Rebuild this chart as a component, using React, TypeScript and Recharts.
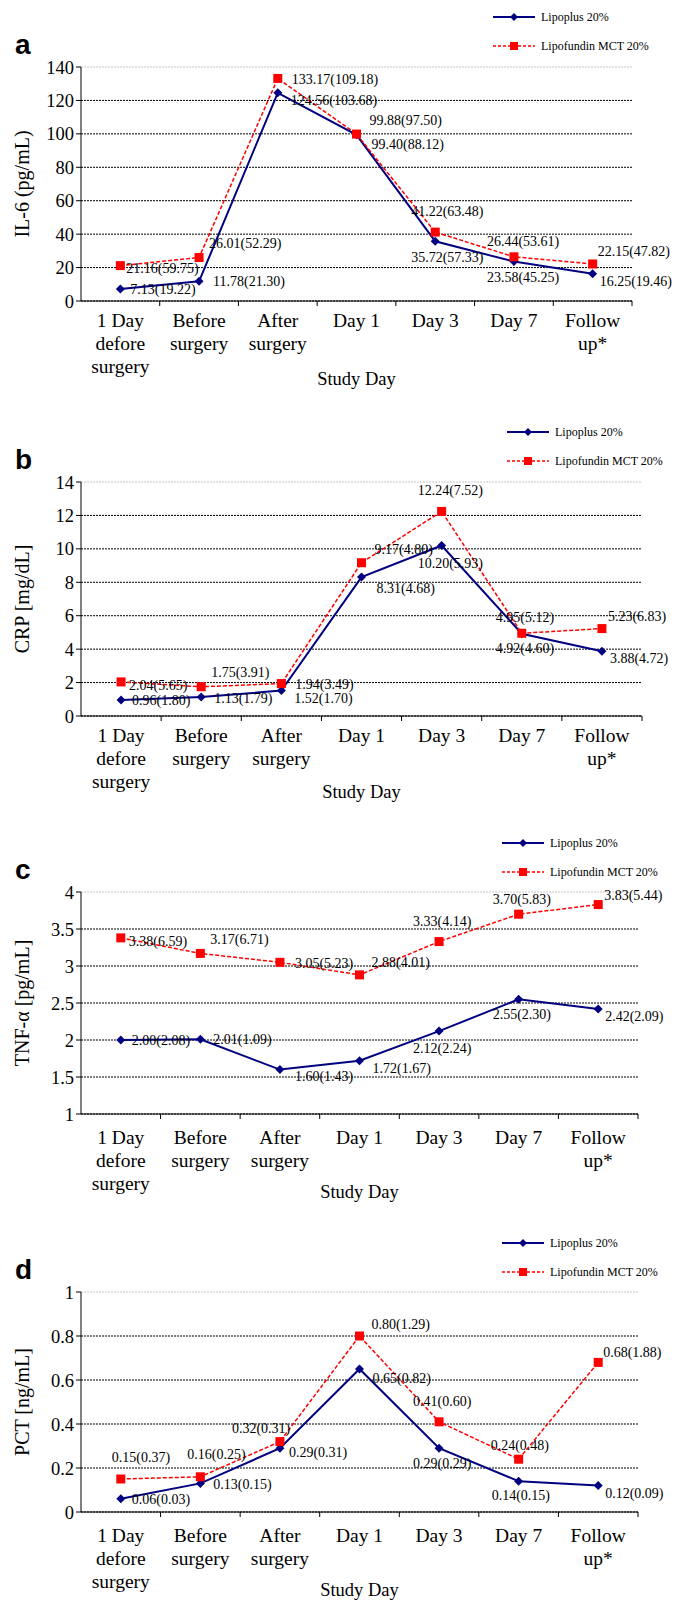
import React from 'react'
import { LineChart, Line, XAxis, YAxis, CartesianGrid, LabelList } from 'recharts'

const categories = ['1 Day\ndefore\nsurgery', 'Before\nsurgery', 'After\nsurgery', 'Day 1', 'Day 3', 'Day 7', 'Follow\nup*']
const seriesNames = ['Lipoplus 20%', 'Lipofundin MCT 20%']

// a: IL-6
const il6Lipoplus = [7.13, 11.78, 124.56, 99.4, 35.72, 23.58, 16.25]
const il6LipoplusSd = [19.22, 21.3, 103.68, 88.12, 57.33, 45.25, 19.46]
const il6Lipofundin = [21.16, 26.01, 133.17, 99.88, 41.22, 26.44, 22.15]
const il6LipofundinSd = [59.75, 52.29, 109.18, 97.5, 63.48, 53.61, 47.82]
const il6Ticks = [0, 20, 40, 60, 80, 100, 120, 140]

// b: CRP
const crpLipoplus = [0.96, 1.13, 1.52, 8.31, 10.2, 4.92, 3.88]
const crpLipoplusSd = [1.8, 1.79, 1.7, 4.68, 5.93, 4.6, 4.72]
const crpLipofundin = [2.04, 1.75, 1.94, 9.17, 12.24, 4.95, 5.23]
const crpLipofundinSd = [5.65, 3.91, 3.49, 4.8, 7.52, 5.12, 6.83]
const crpTicks = [0, 2, 4, 6, 8, 10, 12, 14]

// c: TNF-alpha
const tnfLipoplus = [2.0, 2.01, 1.6, 1.72, 2.12, 2.55, 2.42]
const tnfLipoplusSd = [2.08, 1.09, 1.43, 1.67, 2.24, 2.3, 2.09]
const tnfLipofundin = [3.38, 3.17, 3.05, 2.88, 3.33, 3.7, 3.83]
const tnfLipofundinSd = [6.59, 6.71, 5.23, 4.01, 4.14, 5.83, 5.44]
const tnfTicks = [1, 1.5, 2, 2.5, 3, 3.5, 4]

// d: PCT
const pctLipoplus = [0.06, 0.13, 0.29, 0.65, 0.29, 0.14, 0.12]
const pctLipoplusSd = [0.03, 0.15, 0.31, 0.82, 0.29, 0.15, 0.09]
const pctLipofundin = [0.15, 0.16, 0.32, 0.8, 0.41, 0.24, 0.68]
const pctLipofundinSd = [0.37, 0.25, 0.31, 1.29, 0.6, 0.48, 1.88]
const pctTicks = [0, 0.2, 0.4, 0.6, 0.8, 1]

// label offsets (dx to text start, dy to text middle) per point
const il6BlueOff = [[10, 0], [14, 0], [13, 8], [15, 10], [-24, 16], [-27, 16], [7, 8]]
const il6RedOff = [[6, 3], [10, -14], [14, 1], [13, -14], [-24, -21], [-27, -15], [5, -12]]
const crpBlueOff = [[11, 1], [13, 1], [13, 8], [15, 11], [-24, 18], [-26, 15], [8, 7]]
const crpRedOff = [[8, 4], [10, -14], [14, 1], [13, -13], [-24, -21], [-26, -16], [6, -12]]
const tnfBlueOff = [[11, 0], [13, 0], [15, 7], [13, 8], [-26, 17], [-26, 15], [7, 8]]
const tnfRedOff = [[8, 4], [10, -14], [15, 1], [12, -12], [-26, -20], [-26, -15], [6, -9]]
const pctBlueOff = [[11, 1], [13, 1], [9, 4], [13, 9], [-26, 15], [-27, 14], [7, 8]]
const pctRedOff = [[-9, -22], [-13, -22], [-48, -13], [12, -12], [-26, -20], [-28, -14], [5, -10]]

const BLUE = '#000080'
const RED = '#ff0000'
const SERIF = '"Liberation Serif", "Times New Roman", serif'
const W = 678
const YW = 60

const panels = [
  { letter: 'a', yLabel: 'IL-6 (pg/mL)', ticks: il6Ticks, blue: il6Lipoplus, blueSd: il6LipoplusSd, red: il6Lipofundin, redSd: il6LipofundinSd,
    blueOff: il6BlueOff, redOff: il6RedOff, top: 0, height: 400, plotTop: 67, plotBottom: 301, plotRight: 632, tickDy: 19, titleDy: 78, legendX: 493, legendY: 17 },
  { letter: 'b', yLabel: 'CRP [mg/dL]', ticks: crpTicks, blue: crpLipoplus, blueSd: crpLipoplusSd, red: crpLipofundin, redSd: crpLipofundinSd,
    blueOff: crpBlueOff, redOff: crpRedOff, top: 400, height: 400, plotTop: 82, plotBottom: 316, plotRight: 642, tickDy: 19, titleDy: 76, legendX: 507, legendY: 32 },
  { letter: 'c', yLabel: 'TNF-α [pg/mL]', ticks: tnfTicks, blue: tnfLipoplus, blueSd: tnfLipoplusSd, red: tnfLipofundin, redSd: tnfLipofundinSd,
    blueOff: tnfBlueOff, redOff: tnfRedOff, top: 800, height: 400, plotTop: 92, plotBottom: 314, plotRight: 638, tickDy: 23, titleDy: 78, legendX: 502, legendY: 43 },
  { letter: 'd', yLabel: 'PCT [ng/mL]', ticks: pctTicks, blue: pctLipoplus, blueSd: pctLipoplusSd, red: pctLipofundin, redSd: pctLipofundinSd,
    blueOff: pctBlueOff, redOff: pctRedOff, top: 1190, height: 412, plotTop: 102, plotBottom: 322, plotRight: 638, tickDy: 23, titleDy: 78, legendX: 502, legendY: 53 },
]

const Diamond = (p: any) => {
  if (p.cx == null || p.cy == null) return <g key={`d-${p.index}`} />
  const r = 4.5
  return <polygon key={`d-${p.index}`} points={`${p.cx},${p.cy - r} ${p.cx + r},${p.cy} ${p.cx},${p.cy + r} ${p.cx - r},${p.cy}`} fill={BLUE} />
}

const Square = (p: any) => {
  if (p.cx == null || p.cy == null) return <g key={`s-${p.index}`} />
  return <rect key={`s-${p.index}`} x={p.cx - 4.5} y={p.cy - 4.5} width={9} height={9} fill={RED} />
}

const makeLabel = (sd: number[], off: number[][]) => (p: any) => {
  const i = p.index
  return (
    <text x={p.x + off[i][0]} y={p.y + off[i][1]} fontSize={14} fontFamily={SERIF} fill="#000" dominantBaseline="central">
      {`${Number(p.value).toFixed(2)}(${sd[i].toFixed(2)})`}
    </text>
  )
}

const CatTick = (props: any) => {
  const { x, y, payload, index, band, tickDy } = props
  const lines = String(payload.value).split('\n')
  return (
    <g>
      {index > 0 && <line x1={x - band / 2} x2={x - band / 2} y1={y} y2={y + 5} stroke="#000" />}
      {index === categories.length - 1 && <line x1={x + band / 2} x2={x + band / 2} y1={y} y2={y + 5} stroke="#000" />}
      <text x={x} y={y + tickDy} textAnchor="middle" fontSize={19.5} fontFamily={SERIF} fill="#000" dominantBaseline="central">
        {lines.map((l, k) => (
          <tspan key={k} x={x} dy={k === 0 ? 0 : 23}>{l}</tspan>
        ))}
      </text>
    </g>
  )
}

const XTitle = (props: any) => {
  const vb = props.viewBox
  return (
    <text x={vb.x + vb.width / 2} y={vb.y + props.dy} textAnchor="middle" dominantBaseline="central" fontSize={18.5} fontFamily={SERIF} fill="#000">
      Study Day
    </text>
  )
}

const YTitle = (props: any) => {
  const vb = props.viewBox
  const cy = vb.y + vb.height / 2
  return (
    <text x={22} y={cy} transform={`rotate(-90 22 ${cy})`} textAnchor="middle" dominantBaseline="central" fontSize={20} fontFamily={SERIF} fill="#000">
      {props.text}
    </text>
  )
}

const Panel = ({ cfg }: { cfg: any }) => {
  const data = categories.map((c, i) => ({ cat: c, lipoplus: cfg.blue[i], lipofundin: cfg.red[i] }))
  const band = (cfg.plotRight - 81) / categories.length
  const ticks = cfg.ticks
  const lx = cfg.legendX
  const ly = cfg.legendY
  return (
    <div style={{ position: 'absolute', left: 0, top: cfg.top, width: W, height: cfg.height }}>
      <LineChart width={W} height={cfg.height} data={data} margin={{ top: cfg.plotTop, right: W - cfg.plotRight, bottom: 0, left: 81 - YW }}>
        <CartesianGrid
          vertical={false}
          horizontal={(p: any) => (
            <line key={`g-${p.index}`} x1={p.x1} x2={p.x2} y1={p.y1} y2={p.y2}
              stroke={Math.abs(p.y1 - cfg.plotTop) < 1 ? '#c8c8c8' : '#000'} strokeDasharray="2 1" strokeWidth={1} />
          )}
        />
        <XAxis dataKey="cat" interval={0} tickLine={false} tickSize={0} tickMargin={0} height={cfg.height - cfg.plotBottom}
          padding={{ left: band / 2, right: band / 2 }}
          axisLine={{ stroke: '#000', strokeWidth: 1 }} tick={<CatTick band={band} tickDy={cfg.tickDy} />}
          label={<XTitle dy={cfg.titleDy} />} />
        <YAxis type="number" width={YW} domain={[ticks[0], ticks[ticks.length - 1]]} ticks={ticks} interval={0}
          tickSize={5} axisLine={{ stroke: '#000', strokeWidth: 1 }} tickLine={{ stroke: '#000' }}
          tick={{ fontSize: 18.5, fontFamily: SERIF, fill: '#000' }} label={<YTitle text={cfg.yLabel} />} />
        <Line type="linear" dataKey="lipoplus" name={seriesNames[0]} stroke={BLUE} strokeWidth={2} dot={Diamond} activeDot={false} isAnimationActive={false}>
          <LabelList dataKey="lipoplus" content={makeLabel(cfg.blueSd, cfg.blueOff)} />
        </Line>
        <Line type="linear" dataKey="lipofundin" name={seriesNames[1]} stroke={RED} strokeWidth={1.5} strokeDasharray="4 2" dot={Square} activeDot={false} isAnimationActive={false}>
          <LabelList dataKey="lipofundin" content={makeLabel(cfg.redSd, cfg.redOff)} />
        </Line>
      </LineChart>
      <svg width={W} height={110} style={{ position: 'absolute', left: 0, top: 0, pointerEvents: 'none' }}>
        <text x={15} y={cfg.plotTop - 13} fontSize={28} fontWeight="bold" fontFamily='"Liberation Sans", Arial, sans-serif' fill="#000">{cfg.letter}</text>
        <line x1={lx} x2={lx + 42} y1={ly} y2={ly} stroke={BLUE} strokeWidth={2} />
        <polygon points={`${lx + 21},${ly - 4} ${lx + 25},${ly} ${lx + 21},${ly + 4} ${lx + 17},${ly}`} fill={BLUE} />
        <text x={lx + 48} y={ly} fontSize={12} fontFamily={SERIF} dominantBaseline="central" fill="#000">{seriesNames[0]}</text>
        <line x1={lx} x2={lx + 42} y1={ly + 29} y2={ly + 29} stroke={RED} strokeWidth={1.5} strokeDasharray="3 2" />
        <rect x={lx + 17} y={ly + 25} width={8} height={8} fill={RED} />
        <text x={lx + 48} y={ly + 29} fontSize={12} fontFamily={SERIF} dominantBaseline="central" fill="#000">{seriesNames[1]}</text>
      </svg>
    </div>
  )
}

const App = () => {
  return (
    <div style={{ position: 'absolute', left: 0, top: 0, width: W, height: 1602, background: '#fff' }}>
      <style>{'.recharts-surface { overflow: visible; }'}</style>
      {panels.map(p => <Panel key={p.letter} cfg={p} />)}
    </div>
  )
}

export default App
